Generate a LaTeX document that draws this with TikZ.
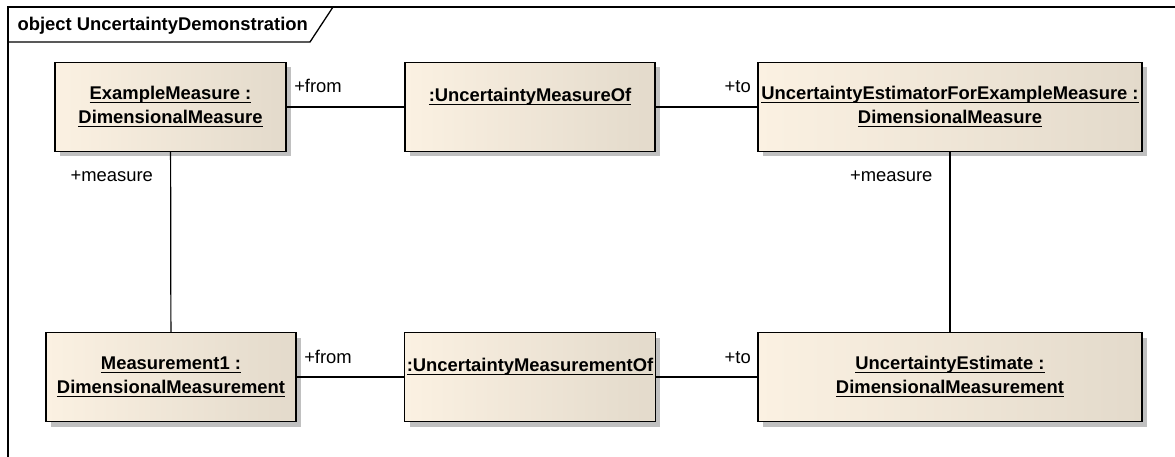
\documentclass[tikz,border=0pt]{standalone}
\usepackage{fontspec}
\setmainfont{Liberation Sans}
\usetikzlibrary{positioning,shadows}
\definecolor{objlight}{RGB}{251,241,226}
\definecolor{objdark}{RGB}{227,218,203}
\definecolor{objshade}{RGB}{192,192,192}
\newcommand\uln[1]{\setbox0\hbox{#1}\leavevmode\rlap{\rule[-3.5pt]{\wd0}{1.1pt}}\box0}

\begin{document}
\begin{tikzpicture}[font=\fontsize{18.4}{24}\selectfont, line width=1.2pt,
	obj/.style={draw, line width=1.3pt, left color=objlight, right color=objdark, minimum height=89pt, align=center, inner sep=2pt, font=\fontsize{18.4}{24}\selectfont\bfseries, general shadow={fill=objshade, shadow xshift=5pt, shadow yshift=-5pt}},
	rolefrom/.style={pos=0, anchor=base west, inner sep=0pt, xshift=7pt, yshift=14pt},
	roleto/.style={pos=1, anchor=base east, inner sep=0pt, xshift=-6pt, yshift=14pt},
	rolemeasure/.style={pos=0, anchor=base east, inner sep=0pt, xshift=-17pt, yshift=-29pt}]
	\useasboundingbox (0pt, 0pt) rectangle (1175pt, -457pt);
	% frame
	\draw[line width=1.3pt] (8pt, -470pt) -- (8pt, -7pt) -- (1190pt, -7pt);
	\draw[line width=1.3pt] (8pt, -42pt) -- (310pt, -42pt) -- (333pt, -7pt);
	\node[anchor=base west, inner sep=0pt, font=\fontsize{18.4}{24}\selectfont\bfseries] (title) at (17pt, -30.5pt) {object UncertaintyDemonstration};
	% objects
	\draw (170.5pt, -107.0pt)node[obj, minimum width=231pt](em){\uln{ExampleMeasure :}\\\uln{DimensionalMeasure}};
	\draw (530.0pt, -107.0pt)node[obj, minimum width=250pt](umo){\uln{:UncertaintyMeasureOf}\\\mbox{}};
	\draw (950.0pt, -107.0pt)node[obj, minimum width=384pt](ue){\uln{UncertaintyEstimatorForExampleMeasure :}\\\uln{DimensionalMeasure}};
	\draw (171.0pt, -377.0pt)node[obj, minimum width=250pt](m1){\uln{Measurement1 :}\\\uln{DimensionalMeasurement}};
	\draw (530.0pt, -377.0pt)node[obj, minimum width=250pt](umt){\uln{:UncertaintyMeasurementOf}\\\mbox{}};
	\draw (950.0pt, -377.0pt)node[obj, minimum width=384pt](est){\uln{UncertaintyEstimate :}\\\uln{DimensionalMeasurement}};
	% links
	\path (em) edge node[rolefrom]{+from} (umo);
	\path (umo) edge node[roleto]{+to} (ue);
	\path (m1) edge node[rolefrom]{+from} (umt);
	\path (umt) edge node[roleto]{+to} (est);
	\path (em) edge node[rolemeasure]{+measure} (m1);
	\path (ue) edge node[rolemeasure]{+measure} (est);
\end{tikzpicture}
\end{document}
